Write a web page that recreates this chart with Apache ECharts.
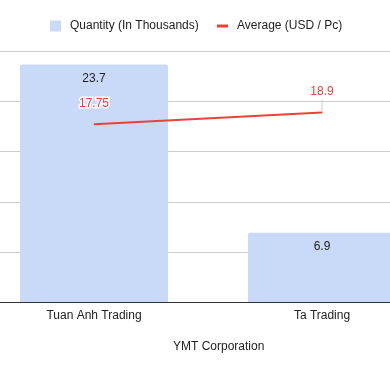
<!DOCTYPE html>
<html><head><meta charset="utf-8">
<script src="https://cdn.jsdelivr.net/npm/echarts@6/dist/echarts.min.js"></script>
<style>html,body{margin:0;padding:0;background:#fff}#c{width:390px;height:371px}</style>
</head><body><div id="c"></div>
<script>
var categories = ['Tuan Anh Trading', 'Ta Trading'];
var quantity = [23.7, 6.9];
var average = [17.75, 18.9];
var yTicks = [0, 5, 10, 15, 20, 25];
var xTitle = 'YMT Corporation';
var nameQ = 'Quantity (In Thousands)';
var nameA = 'Average (USD / Pc)';

var font = 'Arial, "Liberation Sans", sans-serif';
var red = '#ea4335';
var chart = echarts.init(document.getElementById('c'), null, {renderer: 'canvas'});
chart.setOption({
  animation: false,
  textStyle: {fontFamily: font},
  legend: [
    {data: [nameQ], left: 50, top: 20, padding: 0, icon: 'rect', itemWidth: 11, itemHeight: 11,
     textStyle: {fontSize: 12, color: '#222', fontFamily: font, padding: [1, 0, 0, 4]}},
    {data: [{name: nameA, itemStyle: {color: red}}], left: 217, top: 20, padding: 0, icon: 'rect', itemWidth: 11, itemHeight: 3,
     textStyle: {fontSize: 12, color: '#222', fontFamily: font, padding: [1, 0, 0, 4]}}
  ],
  grid: {left: -20, width: 456, top: 51.5, height: 250.5, containLabel: false, outerBoundsMode: 'none'},
  xAxis: {
    type: 'category', data: categories,
    axisLine: {show: true, lineStyle: {color: '#333', width: 1}},
    axisTick: {show: false},
    axisLabel: {fontSize: 12, color: '#222', margin: 8, fontFamily: font}
  },
  yAxis: {
    type: 'value', min: yTicks[0], max: yTicks[yTicks.length - 1], interval: 5,
    axisLabel: {show: false}, axisLine: {show: false}, axisTick: {show: false},
    splitLine: {lineStyle: {color: '#ccc', width: 1}}
  },
  graphic: [{
    type: 'text', left: 173, top: 341,
    style: {text: xTitle, fontSize: 12, fill: '#222', fontFamily: font}
  }],
  series: [
    {
      name: nameQ, type: 'bar', data: quantity, barWidth: 148,
      itemStyle: {color: '#c9daf8', borderRadius: [2, 2, 0, 0]},
      label: {show: true, position: 'insideTop', distance: 8, fontSize: 12, color: '#222', fontFamily: font}
    },
    {
      name: nameA, type: 'line',
      data: average.map(function (v, i) {
        return i === 1 ? {value: v, labelLine: {show: true}} : {value: v};
      }),
      symbol: 'circle', symbolSize: 1, showSymbol: true,
      lineStyle: {color: red, width: 2},
      itemStyle: {color: red},
      label: {show: true, position: 'top', distance: 4, fontSize: 12, color: red,
              textBorderColor: '#fff', textBorderWidth: 3, fontFamily: font},
      labelLayout: {dy: -10},
      labelLine: {show: false, lineStyle: {color: '#ccc', width: 1}}
    }
  ]
});
</script></body></html>
